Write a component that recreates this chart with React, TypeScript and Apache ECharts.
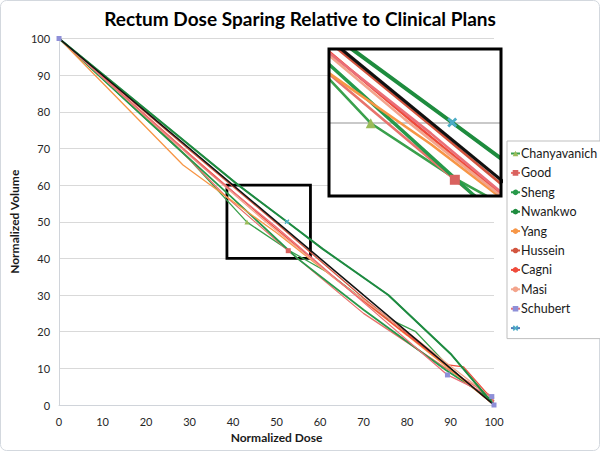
import React, { useEffect, useRef } from "react";
import * as echarts from "echarts";

// ---- data (normalized dose %, normalized volume %) ----
const chanyavanich = [[0, 100], [30, 67], [43.2, 49.9], [52.7, 42.3], [62, 36], [75, 24], [82, 20], [90, 10], [100, 0]];
const good = [[0, 100], [25, 73], [38.6, 56.6], [52.7, 42.1], [70, 25], [89, 10], [100, 2]];
const sheng = [[0, 100], [20, 78], [38.6, 57.9], [54.8, 40], [70, 26], [89, 9.5], [100, 1]];
const nwankwo = [[0, 100], [41, 60.2], [52.4, 50], [60.6, 42.6], [75.7, 30], [90, 14], [100, 0]];
const yang = [[0, 100], [28.5, 65.5], [40, 55.5], [50, 47], [65, 33], [80, 19], [89, 10.5], [100, 0]];
const hussein = [[0, 100], [30, 69.6], [50, 49.6], [70, 29.2], [89, 11], [100, 0]];
const cagni = [[0, 100], [30, 68.5], [48, 50], [63, 35], [78, 21], [89, 11], [93, 10.4], [100, 1]];
const masi = [[0, 100], [30, 68], [47, 50.5], [65, 33], [80, 20], [89, 11.5], [100, 1.5]];
const schubert = [[0, 100], [35, 63], [50, 48.5], [70, 28], [89.3, 8.2], [99.5, 2.3], [100, 0]];
const unnamed = [[0, 100], [41, 60.2], [52.4, 50], [60.6, 42.6], [75.7, 30], [90, 14], [100, 0]];
const clinical = [[0, 100], [100, 0]];

// marker positions (indices into each series)
const chanyavanichMarks = [2];
const goodMarks = [3];
const schubertMarks = [0, 4, 5, 6];
const unnamedMarks = [2];

// zoomed region shown in the inset
const zoomX = [38.6, 57.8];
const zoomY = [40, 60];

const legendNames = ["Chanyavanich", "Good", "Sheng", "Nwankwo", "Yang", "Hussein", "Cagni", "Masi", "Schubert", " "];

const FONT = "Lato, 'Open Sans', sans-serif";
const xPath = "path://M0,2L2,0L5,3L8,0L10,2L7,5L10,8L8,10L5,7L2,10L0,8L3,5Z";

type Def = {
  name: string;
  data: number[][];
  color: string;
  width: number;
  symbol?: string;
  symbolColor?: string;
  marks?: number[];
};

const defs: Def[] = [
  { name: " ", data: unnamed, color: "#4f81bd", width: 1.3, symbol: xPath, symbolColor: "#4bacc6", marks: unnamedMarks },
  { name: "Chanyavanich", data: chanyavanich, color: "#3aa04c", width: 1.3, symbol: "triangle", symbolColor: "#9bbb59", marks: chanyavanichMarks },
  { name: "Good", data: good, color: "#e8736c", width: 1.3, symbol: "rect", symbolColor: "#d9625f", marks: goodMarks },
  { name: "Sheng", data: sheng, color: "#27994a", width: 1.8 },
  { name: "Yang", data: yang, color: "#f79646", width: 1.3 },
  { name: "Hussein", data: hussein, color: "#d2553f", width: 1.3 },
  { name: "Cagni", data: cagni, color: "#ef4b3b", width: 1.3 },
  { name: "Masi", data: masi, color: "#f3a48c", width: 1.3 },
  { name: "Schubert", data: schubert, color: "#ea6f78", width: 1.3, symbol: "rect", symbolColor: "#8e8fd8", marks: schubertMarks },
  { name: "Nwankwo", data: nwankwo, color: "#1e8c3e", width: 2 },
  { name: "Clinical", data: clinical, color: "#111111", width: 1.6 },
];

// layout
const MAIN = { left: 52, top: 38.5, width: 442, height: 366.5 };
const INSET = { left: 330, top: 50, width: 170, height: 145 };

function buildSeries(d: Def, inset: boolean) {
  const scale = inset ? 2 : 1;
  const marks = d.marks || [];
  return {
    type: "line",
    name: d.name,
    xAxisIndex: inset ? 1 : 0,
    yAxisIndex: inset ? 1 : 0,
    clip: true,
    symbol: d.symbol || "none",
    symbolSize: inset ? 10 : 5,
    showSymbol: !!d.symbol,
    itemStyle: { color: d.symbolColor || d.color },
    lineStyle: { color: d.color, width: d.width * scale },
    data: d.data.map((p, i) =>
      d.symbol && marks.indexOf(i) >= 0 ? { value: p } : { value: p, symbol: "none" }
    ),
    silent: true,
  };
}

export default function App() {
  const ref = useRef<HTMLDivElement>(null);
  useEffect(() => {
    if (!ref.current) return;
    const chart = echarts.init(ref.current, null, { renderer: "svg" });

    const mainSeries: any[] = defs.map((d) => buildSeries(d, false));
    const insetSeries: any[] = defs.map((d) => buildSeries(d, true));
    // zoom box on the main plot
    mainSeries[mainSeries.length - 1].markArea = {
      silent: true,
      itemStyle: { color: "rgba(0,0,0,0)", borderColor: "#000", borderWidth: 2.8 },
      data: [[{ coord: [zoomX[0], zoomY[1]] }, { coord: [zoomX[1], zoomY[0]] }]],
    };
    // gridline inside the inset
    insetSeries[0].markLine = {
      silent: true,
      symbol: "none",
      label: { show: false },
      lineStyle: { color: "#c9c9c9", width: 2, type: "solid" },
      data: [{ yAxis: 50 }],
    };

    const option: any = {
      animation: false,
      backgroundColor: "#fff",
      textStyle: { fontFamily: FONT },
      title: {
        text: "Rectum Dose Sparing Relative to Clinical Plans",
        left: "center",
        top: 4,
        textStyle: { fontSize: 19, fontWeight: "bold", color: "#000", fontFamily: FONT },
      },
      legend: {
        orient: "vertical",
        left: 507,
        top: 141,
        padding: [6, 5, 4, 3],
        itemWidth: 9,
        itemHeight: 7,
        itemGap: 6.4,
        borderColor: "#bfbfbf",
        borderWidth: 1,
        backgroundColor: "#fff",
        data: legendNames,
        textStyle: { fontSize: 12.5, color: "#1a1a1a", fontFamily: FONT, padding: [0, 0, 0, -4] },
        selectedMode: false,
        z: 20,
      },
      grid: [
        { ...MAIN, containLabel: false },
        { ...INSET, containLabel: false },
      ],
      xAxis: [
        {
          type: "value",
          gridIndex: 0,
          min: 0,
          max: 100,
          interval: 10,
          name: "Normalized Dose",
          nameLocation: "middle",
          nameGap: 26,
          nameTextStyle: { fontSize: 12, fontWeight: "bold", color: "#1a1a1a", fontFamily: FONT },
          axisLine: { show: true, lineStyle: { color: "#d0d4da", width: 1 } },
          axisTick: { show: false },
          axisLabel: { fontSize: 11, color: "#262626", margin: 11, fontFamily: FONT },
          splitLine: { show: false },
        },
        {
          type: "value",
          gridIndex: 1,
          min: zoomX[0],
          max: zoomX[1],
          show: false,
          splitLine: { show: false },
        },
      ],
      yAxis: [
        {
          type: "value",
          gridIndex: 0,
          min: 0,
          max: 100,
          interval: 10,
          name: "Normalized Volume",
          nameLocation: "middle",
          nameGap: 31,
          nameTextStyle: { fontSize: 12, fontWeight: "bold", color: "#1a1a1a", fontFamily: FONT },
          axisLine: { show: true, lineStyle: { color: "#d0d4da", width: 1 } },
          axisTick: { show: false },
          axisLabel: { fontSize: 11, color: "#262626", margin: 9, fontFamily: FONT },
          splitLine: { show: true, lineStyle: { color: "#d9d9d9", width: 1 } },
        },
        {
          type: "value",
          gridIndex: 1,
          min: zoomY[0],
          max: zoomY[1],
          show: false,
          splitLine: { show: false },
        },
      ],
      graphic: [
        {
          type: "rect",
          z: 1,
          silent: true,
          shape: { x: 0.5, y: 0.5, width: 599, height: 450, r: 6 },
          style: { fill: "none", stroke: "#d3d8de", lineWidth: 1 },
        },
        {
          type: "rect",
          z: 1,
          silent: true,
          shape: { x: INSET.left, y: INSET.top, width: INSET.width, height: INSET.height },
          style: { fill: "#fff" },
        },
        {
          type: "rect",
          z: 30,
          silent: true,
          shape: { x: INSET.left - 1, y: INSET.top - 1, width: INSET.width + 2, height: INSET.height + 2 },
          style: { fill: "none", stroke: "#000", lineWidth: 3 },
        },
      ],
      series: [...mainSeries, ...insetSeries.map((s) => ({ ...s, z: 5 }))],
    };
    chart.setOption(option);
    return () => chart.dispose();
  }, []);

  return (
    <div
      ref={ref}
      style={{ position: "absolute", left: 0, top: 0, width: 600, height: 451, background: "#fff" }}
    />
  );
}
